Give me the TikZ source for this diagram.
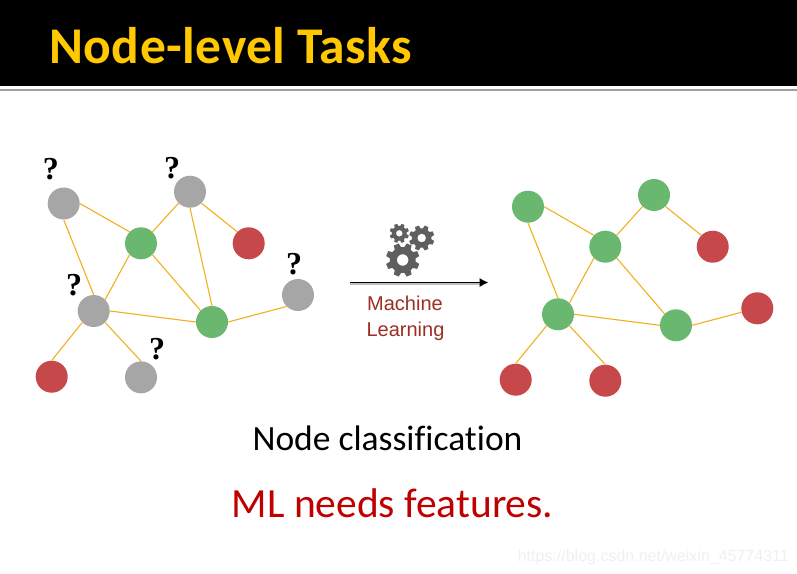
\documentclass[tikz,border=0pt]{standalone}
\usetikzlibrary{arrows.meta}
\usepackage{fontspec}
\setmainfont{Carlito}[Ligatures=CommonOff]
\newfontfamily\titlefont{Carlito Bold}[LetterSpace=1.0,Ligatures=CommonOff]
\newfontfamily\qfont{Liberation Serif}
\newfontfamily\mlfont{Liberation Sans}
\definecolor{edgeY}{HTML}{F2B01E}
\definecolor{nGray}{HTML}{A6A6A6}
\definecolor{nGreen}{HTML}{6AB76F}
\definecolor{nRed}{HTML}{C6484A}
\definecolor{titleY}{HTML}{FFC800}
\definecolor{gearC}{HTML}{5F5F5F}
\definecolor{mlRed}{HTML}{9C2F22}
\definecolor{ruleG}{HTML}{A0A0A0}
\tikzset{
  x=1pt,y=-1pt,
  gn/.style={circle,inner sep=0pt,minimum size=32pt,fill=#1},
  link/.style={draw=edgeY,line width=1.1pt},
  qm/.style={font=\qfont\bfseries\fontsize{32}{32}\selectfont,inner sep=0pt},
  mltext/.style={anchor=base,inner sep=0pt,text=mlRed,font=\mlfont\fontsize{20}{20}\selectfont},
}
% gear: centre x, centre y, outer radius, teeth
\newcommand{\gearfig}[4]{%
  \pgfmathsetmacro{\rO}{#3}\pgfmathsetmacro{\rI}{#3*0.76}\pgfmathsetmacro{\rH}{#3*0.34}%
  \pgfmathsetmacro{\stp}{360/#4}%
  \fill[gearC,even odd rule,shift={(#1,#2)}]
    (0:\rI)
    \foreach \k in {1,...,#4}{
      -- ({(\k-1)*\stp+0.16*\stp}:\rI)
      -- ({(\k-1)*\stp+0.30*\stp}:\rO)
      -- ({(\k-1)*\stp+0.70*\stp}:\rO)
      -- ({(\k-1)*\stp+0.84*\stp}:\rI)
      -- ({\k*\stp}:\rI)
    } -- cycle
    (0,0) circle[radius=\rH];
}
\begin{document}
\begin{tikzpicture}
\useasboundingbox (0,0) rectangle (797,573);
\fill[white] (0,0) rectangle (797,573);
\fill[black] (0,0) rectangle (797,86);
\fill[ruleG] (0,89.3) rectangle (797,90.7);
\node[anchor=base west,inner sep=0pt,text=titleY,font=\titlefont\fontsize{51.5}{51.5}\selectfont] (title) at (49,63) {Node-level Tasks};

% left graph
\node[gn=nGray] (a) at (63.7,203.5) {};
\node[gn=nGray] (b) at (190,191.7) {};
\node[gn=nGray] (c) at (93.7,311) {};
\node[gn=nGray] (d) at (298,295) {};
\node[gn=nGray] (e) at (141,377.3) {};
\node[gn=nGreen] (f) at (141,243.3) {};
\node[gn=nGreen] (g) at (212,322) {};
\node[gn=nRed] (h) at (248.7,243.3) {};
\node[gn=nRed] (i) at (51.7,376.7) {};
\draw[link] (a.east)--(f.north west) (a.south)--(c.north) (f.north east)--(b.south west)
  (b.south east)--(h.north west) (b.south)--(g.north) (f.south east)--(g.north west)
  (f.south west)--(c.north east) (c.east)--(g.west) (c.south west)--(i.north)
  (c.south east)--(e.north) (g.east)--(d.south west);

\node[qm] (q1) at (50.8,169) {?};
\node[qm] (q2) at (172,168) {?};
\node[qm] (q3) at (74,285) {?};
\node[qm] (q4) at (294,264) {?};
\node[qm] (q5) at (157,349) {?};

% right graph
\node[gn=nGreen] (ra) at (528,206.7) {};
\node[gn=nGreen] (rb) at (654,195) {};
\node[gn=nGreen] (rf) at (605.3,246.7) {};
\node[gn=nGreen] (rc) at (558,314.3) {};
\node[gn=nGreen] (rg) at (676,325.3) {};
\node[gn=nRed] (rh) at (712.7,246.7) {};
\node[gn=nRed] (rd) at (757.3,308.3) {};
\node[gn=nRed] (ri) at (515.7,379.7) {};
\node[gn=nRed] (re) at (605.3,380.7) {};
\draw[link] (ra.east)--(rf.north west) (ra.south)--(rc.north) (rf.north east)--(rb.south west)
  (rb.south east)--(rh.north west) (rf.south east)--(rg.north west)
  (rf.south west)--(rc.north east) (rc.east)--(rg.west) (rc.south west)--(ri.north)
  (rc.south east)--(re.north) (rg.east)--(rd.194);

% centre
\gearfig{402.7}{260}{17}{8}
\gearfig{399.3}{233.3}{9.8}{8}
\gearfig{421.7}{238}{12.8}{8}
\coordinate (s) at (350,282.5);
\coordinate (t) at (488.5,282.5);
\draw[gray!50,line width=2pt] ([yshift=-1.2pt]s) -- ([yshift=-1.2pt,xshift=-8pt]t);
\draw[black,line width=1.9pt,-{Latex[length=9pt,width=9.5pt]}] (s) -- (t);
\node[mltext] (m1) at (405,310.5) {Machine};
\node[mltext] (m2) at (405.5,336) {Learning};

\node[anchor=base,inner sep=0pt,font=\fontsize{35.5}{35.5}\selectfont] (nc) at (387.5,450) {Node classification};
\node[anchor=base,inner sep=0pt,text={rgb,255:red,192;green,0;blue,0},font=\fontsize{41.5}{41.5}\selectfont] (ml) at (392.5,517.5) {ML needs features.};
\node[anchor=base east,inner sep=0pt,text=black!6,font=\mlfont\fontsize{16}{16}\selectfont] (wm) at (789,561) {https://blog.csdn.net/weixin\_45774311};
\end{tikzpicture}
\end{document}
